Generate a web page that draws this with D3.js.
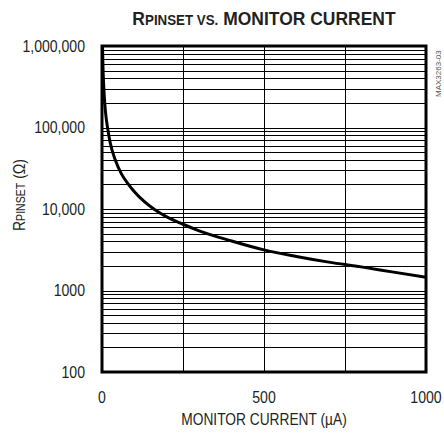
<!DOCTYPE html>
<html>
<head>
<meta charset="utf-8">
<script src="https://cdn.jsdelivr.net/npm/d3@7"></script>
<style>
  body { margin: 0; background: #fff; }
  text { font-family: "Liberation Sans", Arial, sans-serif; fill: #231f20; }
</style>
</head>
<body>
<svg width="444" height="433"></svg>
<script>
// monitor current (uA) and RPINSET (ohm)
var current = [1.6, 3, 5, 8, 12, 17, 25, 40, 60, 80, 100, 130, 160, 200, 250, 300, 400, 500, 600, 700, 800, 900, 1000];
var rpinset = [1000000, 560000, 340000, 210000, 140000, 100000, 66000, 41000, 27000, 20500, 16300, 12400, 10000, 8000, 6500, 5400, 4050, 3150, 2620, 2230, 1950, 1680, 1450];

var xTicks = [0, 500, 1000];
var xGrid = [250, 500, 750];
var yTicks = [100, 1000, 10000, 100000, 1000000];
var yTickLabels = ["100", "1000", "10,000", "100,000", "1,000,000"];

var svg = d3.select("svg"),
  margin = {top: 46, right: 18, bottom: 61, left: 102},
  width = +svg.attr("width") - margin.left - margin.right,
  height = +svg.attr("height") - margin.top - margin.bottom,
  g = svg.append("g").attr("transform", "translate(" + margin.left + "," + margin.top + ")");

// the original type is a condensed face, squeeze the regular one
var squeeze = 0.88;

var x = d3.scaleLinear().domain([0, 1000]).range([0, width]);
var y = d3.scaleLog().domain([100, 1000000]).range([height, 0]);

// horizontal grid: 1..9 in each decade
var minor = [];
for (var d = 100; d < 1000000; d *= 10)
  for (var m = 1; m < 10; m++) minor.push(d * m);

g.append("g").selectAll("line")
  .data(minor)
  .join("line")
  .attr("x1", 0).attr("x2", width)
  .attr("y1", function(d) { return Math.round(y(d)) + 0.5; })
  .attr("y2", function(d) { return Math.round(y(d)) + 0.5; })
  .attr("stroke", "#000").attr("stroke-width", 1);

g.append("g").selectAll("line")
  .data(xGrid)
  .join("line")
  .attr("y1", 0).attr("y2", height)
  .attr("x1", function(d) { return Math.round(x(d)) + 0.5; })
  .attr("x2", function(d) { return Math.round(x(d)) + 0.5; })
  .attr("stroke", "#000").attr("stroke-width", 1);

// the curve
var line = d3.line()
  .x(function(d, i) { return x(current[i]); })
  .y(function(d) { return y(d); })
  .curve(d3.curveMonotoneX);

g.append("path")
  .datum(rpinset)
  .attr("fill", "none")
  .attr("stroke", "#000")
  .attr("stroke-width", 3)
  .attr("stroke-linejoin", "round")
  .attr("d", line);

// frame
g.append("rect")
  .attr("x", 0).attr("y", 0)
  .attr("width", width).attr("height", height)
  .attr("fill", "none")
  .attr("stroke", "#000")
  .attr("stroke-width", 3);

// tick labels
g.append("g").selectAll("text")
  .data(yTicks)
  .join("text")
  .attr("transform", function(d) { return "translate(-17," + y(d) + ") scale(" + squeeze + ",1)"; })
  .attr("dy", "0.36em")
  .attr("text-anchor", "end")
  .attr("font-size", 16)
  .text(function(d, i) { return yTickLabels[i]; });

g.append("g").selectAll("text")
  .data(xTicks)
  .join("text")
  .attr("transform", function(d) { return "translate(" + x(d) + "," + (height + 31) + ") scale(" + squeeze + ",1)"; })
  .attr("text-anchor", "middle")
  .attr("font-size", 16)
  .text(function(d) { return d; });

// axis titles
svg.append("text")
  .attr("transform", "translate(" + (margin.left + width / 2) + ",425) scale(0.86,1)")
  .attr("text-anchor", "middle")
  .attr("font-size", 16)
  .text("MONITOR CURRENT (\u00b5A)");

var yl = svg.append("text")
  .attr("transform", "translate(25,195) rotate(-90) scale(" + squeeze + ",1)")
  .attr("text-anchor", "middle")
  .attr("font-size", 16);
yl.append("tspan").text("R");
yl.append("tspan").attr("font-size", 12).text("PINSET");
yl.append("tspan").text(" (\u03a9)");

// title
var t = svg.append("text")
  .attr("transform", "translate(" + (margin.left + width / 2) + ",25) scale(0.92,1)")
  .attr("text-anchor", "middle")
  .attr("font-size", 19)
  .attr("font-weight", "bold");
t.append("tspan").text("R");
t.append("tspan").attr("font-size", 14.5).text("PINSET VS.");
t.append("tspan").text(" MONITOR CURRENT");

// part number tag
svg.append("text")
  .attr("transform", "translate(441,97) rotate(-90)")
  .attr("font-size", 8)
  .style("fill", "#555")
  .text("MAX3263-03");
</script>
</body>
</html>
